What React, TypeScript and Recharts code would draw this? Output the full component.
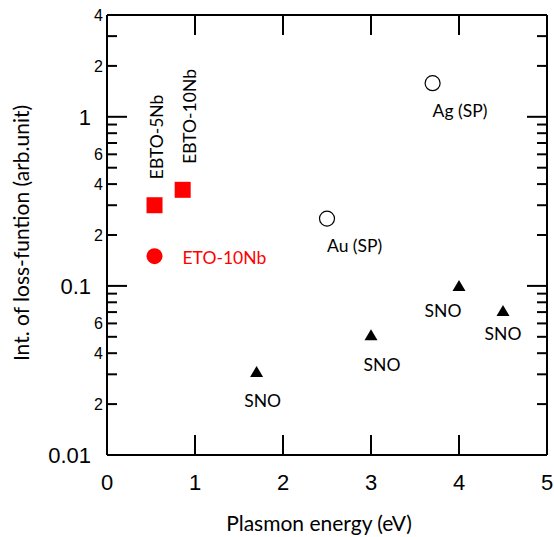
import React from 'react';
import { ScatterChart, Scatter, XAxis, YAxis, Label } from 'recharts';

// tick values
const xTicks = [0, 1, 2, 3, 4, 5];
const yTicks = [
  0.01, 0.02, 0.03, 0.04, 0.05, 0.06, 0.07, 0.08, 0.09,
  0.1, 0.2, 0.3, 0.4, 0.5, 0.6, 0.7, 0.8, 0.9,
  1, 2, 3, 4,
];
const yTickText: Record<string, string> = {
  '4': '4', '2': '2', '1': '1', '0.6': '6', '0.4': '4', '0.2': '2',
  '0.1': '0.1', '0.06': '6', '0.04': '4', '0.02': '2', '0.01': '0.01',
};
const yMajor = [0.01, 0.1, 1];

// series
const ebtoNames = ['EBTO-5Nb', 'EBTO-10Nb'];
const ebtoX = [0.54, 0.86];
const ebtoY = [0.3, 0.37];

const etoNames = ['ETO-10Nb'];
const etoX = [0.54];
const etoY = [0.15];

const spNames = ['Au (SP)', 'Ag (SP)'];
const spX = [2.5, 3.7];
const spY = [0.25, 1.58];

const snoNames = ['SNO', 'SNO', 'SNO', 'SNO'];
const snoX = [1.7, 3.0, 4.0, 4.5];
const snoY = [0.031, 0.051, 0.1, 0.071];

// label offsets (px) from each marker
const ebtoLabelDx = [2, 7];
const snoLabelDx = [6, 11, -16, 0];
const snoLabelDy = [29, 29, 25, 23];

const toRows = (names: string[], xs: number[], ys: number[]) =>
  xs.map((x, k) => ({ x, y: ys[k], name: names[k], k }));

const ebtoData = toRows(ebtoNames, ebtoX, ebtoY);
const etoData = toRows(etoNames, etoX, etoY);
const spData = toRows(spNames, spX, spY);
const snoData = toRows(snoNames, snoX, snoY);

const TXT = 'Lato, "Open Sans", sans-serif';
const NUM = '"Liberation Sans", Arial, sans-serif';

const LeftTick = (p: any) => {
  const v = p.payload.value;
  const major = yMajor.includes(v);
  const t = yTickText[String(v)];
  return (
    <g>
      <line x1={p.x} x2={p.x + (major ? 20 : 10)} y1={p.y} y2={p.y} stroke="#000" strokeWidth={2} />
      {t && (
        <text x={p.x - (major ? 16 : 4)} y={p.y} dy="0.36em" textAnchor="end"
          fontFamily={NUM} fontSize={major ? 22 : 16} fill="#000">{t}</text>
      )}
    </g>
  );
};

const RightTick = (p: any) => {
  const major = yMajor.includes(p.payload.value);
  return <line x1={p.x} x2={p.x - (major ? 20 : 10)} y1={p.y} y2={p.y} stroke="#000" strokeWidth={2} />;
};

const BottomTick = (p: any) => (
  <g>
    <line x1={p.x} x2={p.x} y1={p.y} y2={p.y - 20} stroke="#000" strokeWidth={2} />
    <text x={p.x} y={p.y + 27} dy="0.36em" textAnchor="middle" fontFamily={NUM} fontSize={22} fill="#000">
      {p.payload.value}
    </text>
  </g>
);

const TopTick = (p: any) => (
  <line x1={p.x} x2={p.x} y1={p.y} y2={p.y + 20} stroke="#000" strokeWidth={2} />
);

const EbtoShape = (p: any) => {
  const k = p.payload.k;
  const lx = p.cx + ebtoLabelDx[k];
  const ly = p.cy - 26;
  return (
    <g>
      <rect x={p.cx - 8} y={p.cy - 8} width={16} height={16} fill="#ff0000" />
      <text x={lx} y={ly} dy="0.36em" transform={`rotate(-90 ${lx} ${ly})`} textAnchor="start"
        fontFamily={TXT} fontSize={17.5} fill="#000">{p.payload.name}</text>
    </g>
  );
};

const EtoShape = (p: any) => (
  <g>
    <circle cx={p.cx} cy={p.cy} r={8} fill="#ff0000" />
    <text x={p.cx + 28} y={p.cy + 2} dy="0.36em" textAnchor="start" fontFamily={TXT} fontSize={17.5} fill="#ff0000">
      {p.payload.name}
    </text>
  </g>
);

const SpShape = (p: any) => (
  <g>
    <circle cx={p.cx} cy={p.cy} r={7.5} fill="#fff" stroke="#000" strokeWidth={1.2} />
    <text x={p.cx} y={p.cy + 27} dy="0.36em" textAnchor="start" fontFamily={TXT} fontSize={17.5} fill="#000">
      {p.payload.name}
    </text>
  </g>
);

const SnoShape = (p: any) => {
  const k = p.payload.k;
  return (
    <g>
      <polygon points={`${p.cx},${p.cy - 6} ${p.cx - 6.5},${p.cy + 5} ${p.cx + 6.5},${p.cy + 5}`} fill="#000" />
      <text x={p.cx + snoLabelDx[k]} y={p.cy + snoLabelDy[k]} dy="0.36em" textAnchor="middle"
        fontFamily={TXT} fontSize={17.5} fill="#000">{p.payload.name}</text>
    </g>
  );
};

export default function App() {
  return (
    <div style={{ position: 'absolute', left: 0, top: 0, width: 554, height: 537, background: '#fff' }}>
      <ScatterChart width={554} height={537} margin={{ top: 0, right: 0, bottom: 0, left: 0 }}>
        <XAxis xAxisId="b" dataKey="x" type="number" domain={[0, 5]} ticks={xTicks} interval={0}
          height={82} tickSize={0} tickMargin={0} tickLine={false} tick={<BottomTick />}
          axisLine={{ stroke: '#000', strokeWidth: 2 }} allowDataOverflow>
          <Label content={(lp: any) => {
            const vb = lp.viewBox;
            return (
              <text x={vb.x + vb.width / 2 - 8} y={vb.y + 76} textAnchor="middle" fontFamily={TXT} fontSize={21} fill="#000">
                Plasmon energy (eV)
              </text>
            );
          }} />
        </XAxis>
        <XAxis xAxisId="t" orientation="top" dataKey="x" type="number" domain={[0, 5]} ticks={xTicks} interval={0}
          height={15} tickSize={0} tickMargin={0} tickLine={false} tick={<TopTick />}
          axisLine={{ stroke: '#000', strokeWidth: 2 }} allowDataOverflow />
        <YAxis yAxisId="l" dataKey="y" type="number" scale="log" domain={[0.01, 4]} ticks={yTicks} interval={0}
          width={107} tickSize={0} tickMargin={0} tickLine={false} tick={<LeftTick />}
          axisLine={{ stroke: '#000', strokeWidth: 2 }} allowDataOverflow>
          <Label content={(lp: any) => {
            const vb = lp.viewBox;
            const cx = vb.x + 21;
            const cy = vb.y + vb.height / 2 - 2;
            return (
              <text x={cx} y={cy} dy="0.36em" transform={`rotate(-90 ${cx} ${cy})`} textAnchor="middle"
                fontFamily={TXT} fontSize={21} fill="#000">
                Int. of loss-funtion (arb.unit)
              </text>
            );
          }} />
        </YAxis>
        <YAxis yAxisId="r" orientation="right" dataKey="y" type="number" scale="log" domain={[0.01, 4]} ticks={yTicks}
          interval={0} width={7} tickSize={0} tickMargin={0} tickLine={false} tick={<RightTick />}
          axisLine={{ stroke: '#000', strokeWidth: 2 }} allowDataOverflow />
        <Scatter xAxisId="b" yAxisId="l" data={ebtoData} shape={<EbtoShape />} isAnimationActive={false} />
        <Scatter xAxisId="b" yAxisId="l" data={etoData} shape={<EtoShape />} isAnimationActive={false} />
        <Scatter xAxisId="b" yAxisId="l" data={spData} shape={<SpShape />} isAnimationActive={false} />
        <Scatter xAxisId="b" yAxisId="l" data={snoData} shape={<SnoShape />} isAnimationActive={false} />
      </ScatterChart>
    </div>
  );
}
